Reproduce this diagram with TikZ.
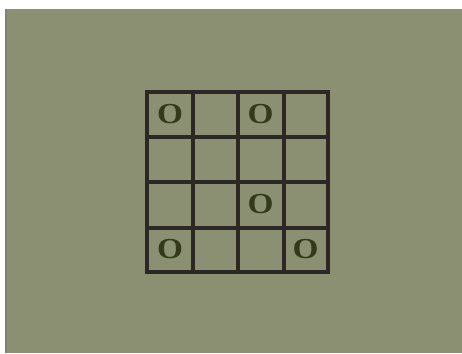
\documentclass[tikz,border=0pt]{standalone}
\usepackage{fontspec}
\setmainfont{Liberation Serif}
\definecolor{bgc}{HTML}{8A9071}
\definecolor{gridc}{HTML}{2C2826}
\definecolor{txtc}{HTML}{323A1A}
\definecolor{edgec}{HTML}{7E8270}
\begin{document}
\begin{tikzpicture}[x=1pt,y=-1pt,
  gridline/.style={draw=gridc,line width=4pt},
  omark/.style={text=txtc,font=\fontsize{29}{29}\selectfont\bfseries,inner sep=0pt,anchor=center,xscale=1.15}]
\useasboundingbox (0,0) rectangle (462,353);
\fill[white] (0,0) rectangle (462,353);
\fill[bgc] (5,9) rectangle (462,353);
\fill[edgec] (5,9) rectangle (6.5,353);
% grid
\foreach \x in {147,192.5,237.5,283.5,328} \draw[gridline] (\x,90) -- (\x,274);
\foreach \y in {92,137.3,182.3,228,272} \draw[gridline] (145,\y) -- (330,\y);
\node[omark] (o11) at (170,114.5) {O};
\node[omark] (o13) at (260.5,114.5) {O};
\node[omark] (o33) at (260.5,204.5) {O};
\node[omark] (o41) at (170,249.5) {O};
\node[omark] (o44) at (305.5,249.5) {O};
\end{tikzpicture}
\end{document}
